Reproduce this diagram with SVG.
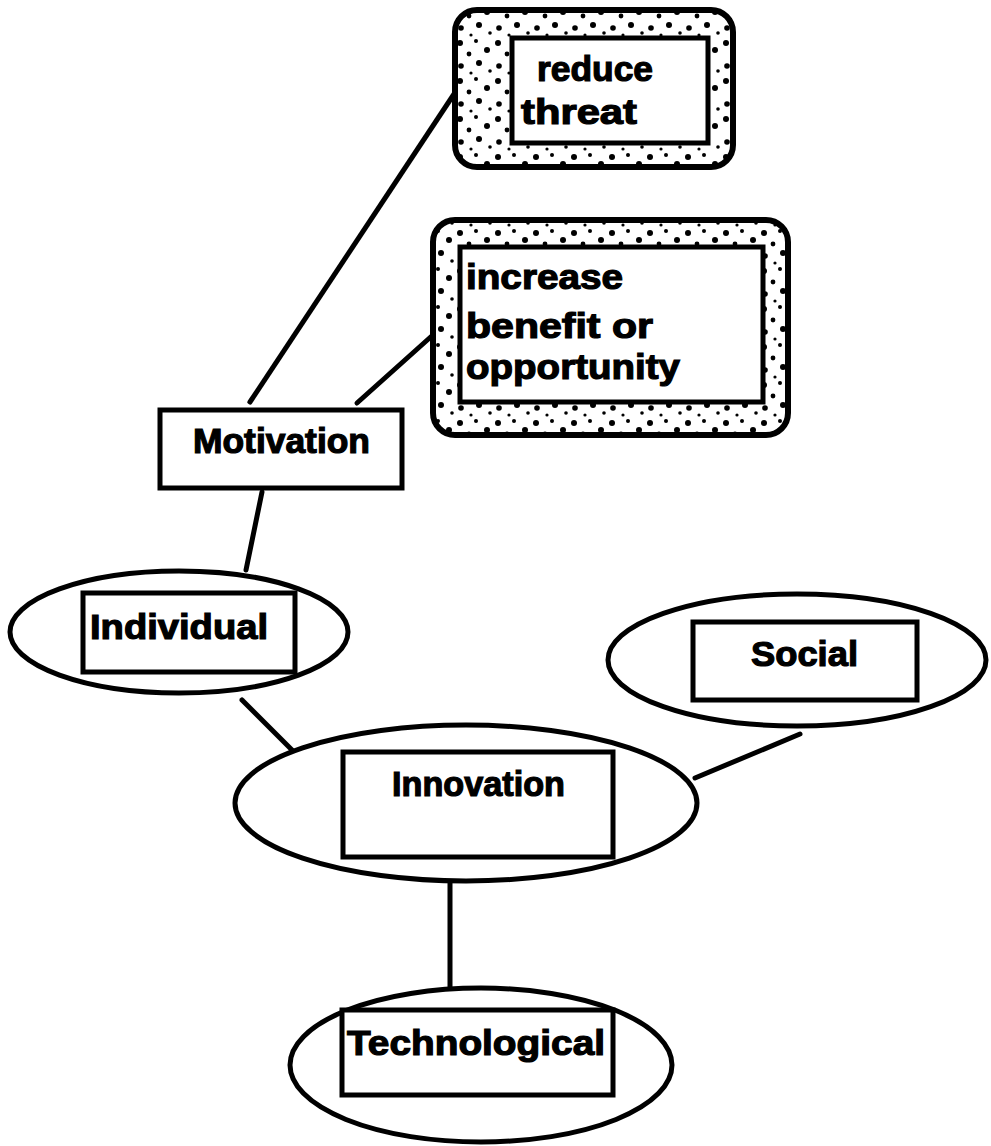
<svg xmlns="http://www.w3.org/2000/svg" width="991" height="1146" viewBox="0 0 991 1146">
<defs>
<pattern id="stipple" x="0" y="0" width="38" height="38" patternUnits="userSpaceOnUse">
<rect width="38" height="38" fill="#fff"/>
<circle cx="4" cy="5" r="3" fill="#000"/>
<circle cx="20" cy="3" r="2" fill="#000"/>
<circle cx="31" cy="12" r="3" fill="#000"/>
<circle cx="13" cy="16" r="2.4" fill="#000"/>
<circle cx="5" cy="28" r="2.8" fill="#000"/>
<circle cx="23" cy="25" r="3" fill="#000"/>
<circle cx="34" cy="33" r="1.8" fill="#000"/>
<circle cx="15" cy="35" r="1.6" fill="#000"/>
</pattern>
</defs>
<style>
.line{stroke:#000;stroke-width:5;stroke-linecap:round;fill:none}
.oval{fill:#fff;stroke:#000;stroke-width:5}
.box{fill:#fff;stroke:#000;stroke-width:5}
.outer{fill:url(#stipple);stroke:#000;stroke-width:6}
.lbl{font-family:"Liberation Sans",Arial,sans-serif;font-weight:bold;font-size:35px;fill:#000;stroke:#000;stroke-width:1.2}
</style>
<rect width="991" height="1146" fill="#fff"/>
<g id="connectors">
<line class="line" x1="250" y1="402" x2="458" y2="88"/>
<line class="line" x1="357" y1="403" x2="434" y2="334"/>
<line class="line" x1="262" y1="492" x2="246" y2="570"/>
<line class="line" x1="242" y1="700" x2="292" y2="750"/>
<line class="line" x1="695" y1="778" x2="800" y2="734"/>
<line class="line" x1="450" y1="882" x2="450" y2="987"/>
</g>
<g id="reduce-threat">
<rect class="outer" x="455" y="10" width="278" height="157" rx="22"/>
<rect class="box" x="512" y="38" width="196" height="105"/>
<text class="lbl" x="537" y="81" textLength="116" lengthAdjust="spacingAndGlyphs">reduce</text>
<text class="lbl" x="521" y="124" textLength="116" lengthAdjust="spacingAndGlyphs">threat</text>
</g>
<g id="increase-benefit">
<rect class="outer" x="433" y="220" width="355" height="215" rx="22"/>
<rect class="box" x="460" y="247" width="303" height="155"/>
<text class="lbl" x="466" y="289" textLength="157" lengthAdjust="spacingAndGlyphs">increase</text>
<text class="lbl" x="466" y="338" textLength="187" lengthAdjust="spacingAndGlyphs">benefit  or</text>
<text class="lbl" x="466" y="379" textLength="214" lengthAdjust="spacingAndGlyphs">opportunity</text>
</g>
<g id="motivation">
<rect class="box" x="160" y="410" width="242" height="78"/>
<text class="lbl" x="193" y="453" textLength="177" lengthAdjust="spacingAndGlyphs">Motivation</text>
</g>
<g id="individual">
<ellipse class="oval" cx="179" cy="632" rx="169" ry="61"/>
<rect class="box" x="83" y="593" width="212" height="79"/>
<text class="lbl" x="90" y="639" textLength="178" lengthAdjust="spacingAndGlyphs">Individual</text>
</g>
<g id="social">
<ellipse class="oval" cx="797" cy="660" rx="189" ry="66"/>
<rect class="box" x="693" y="622" width="224" height="78"/>
<text class="lbl" x="751" y="666" textLength="107" lengthAdjust="spacingAndGlyphs">Social</text>
</g>
<g id="innovation">
<ellipse class="oval" cx="466" cy="803" rx="231" ry="78"/>
<rect class="box" x="343" y="752" width="270" height="105"/>
<text class="lbl" x="392" y="796" textLength="173" lengthAdjust="spacingAndGlyphs">Innovation</text>
</g>
<g id="technological">
<ellipse class="oval" cx="481" cy="1065" rx="191" ry="77"/>
<rect class="box" x="342" y="1010" width="271" height="85"/>
<text class="lbl" x="347" y="1055" textLength="258" lengthAdjust="spacingAndGlyphs">Technological</text>
</g>
</svg>
